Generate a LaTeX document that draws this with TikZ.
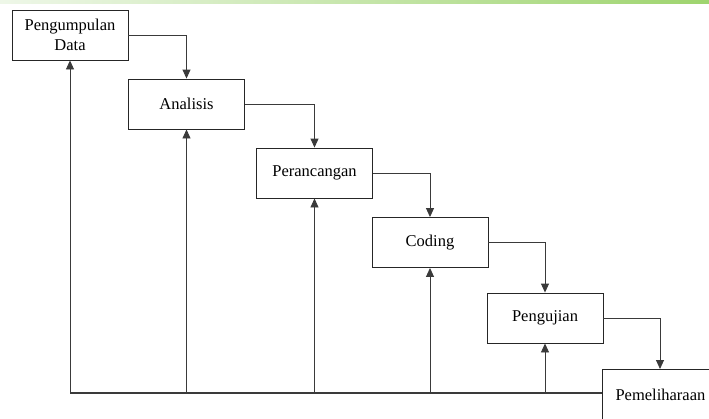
\documentclass[tikz,border=0pt]{standalone}
\usepackage{fontspec}
\setmainfont{Liberation Serif}
\usetikzlibrary{arrows.meta}
\definecolor{barL}{HTML}{EEF7E8}
\definecolor{barR}{HTML}{9ED46E}
\definecolor{lineC}{HTML}{3A3A3A}
\tikzset{
  stepbox/.style={draw=black!85, line width=0.9pt, fill=white, minimum width=116pt, minimum height=50pt, inner sep=0pt, align=center, font=\fontsize{16.5}{20}\selectfont},
  conn/.style={draw=lineC, line width=0.9pt, -{Triangle[length=9pt,width=8pt]}},
  fb/.style={draw=lineC, line width=1.2pt}
}
\begin{document}
\begin{tikzpicture}[x=1pt,y=-1pt]
\useasboundingbox (0,0) rectangle (709,418);
\shade[left color=barL, right color=barR] (0,0) rectangle (709,3);
\node[stepbox] (pd) at (70,35) {Pengumpulan\\Data};
\node[stepbox] (an) at (186.5,104) {Analisis};
\node[stepbox] (pr) at (314.5,173) {Perancangan};
\node[stepbox] (cd) at (430,242.5) {Coding};
\node[stepbox] (pj) at (545,318) {Pengujian};
\node[stepbox, anchor=north west] (pm) at (602,369) {Pemeliharaan};
% forward connectors
\draw[conn] (pd.east) -| (an.north);
\draw[conn] (an.east) -| (pr.north);
\draw[conn] (pr.east) -| (cd.north);
\draw[conn] (cd.east) -| (pj.north);
\draw[conn] (pj.east) -| (pm.north -| 660,0);
% feedback
\coordinate (fbL) at (70,393);
\coordinate (fbR) at (pm.west |- 0,393);
\draw[fb] (fbL) -- (fbR);
\draw[conn] (fbL) -- (pd.south);
\draw[conn] (an.south |- fbL) -- (an.south);
\draw[conn] (pr.south |- fbL) -- (pr.south);
\draw[conn] (cd.south |- fbL) -- (cd.south);
\draw[conn] (pj.south |- fbL) -- (pj.south);
\end{tikzpicture}
\end{document}
